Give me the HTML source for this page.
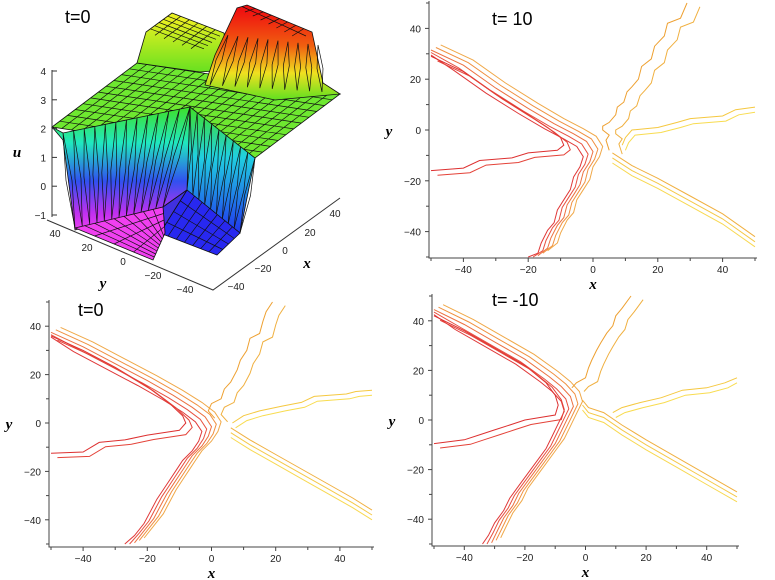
<!DOCTYPE html>
<html><head><meta charset="utf-8"><style>
html,body{margin:0;padding:0;background:#fff;}
svg{display:block;font-family:"Liberation Sans",sans-serif;}
.tk{font-size:10px;fill:#222;}
.ax{font-family:"Liberation Serif",serif;font-weight:bold;font-style:italic;font-size:15px;fill:#000;}
.ttl{font-size:18px;fill:#000;}
</style></head><body>
<svg id="root" width="775" height="580" viewBox="0 0 775 580" xmlns="http://www.w3.org/2000/svg">
<defs>
<linearGradient id="gCliff" x1="0" y1="105" x2="0" y2="232" gradientUnits="userSpaceOnUse">
<stop offset="0" stop-color="#40e020"/><stop offset="0.3" stop-color="#20e8c0"/><stop offset="0.6" stop-color="#3050f0"/><stop offset="0.85" stop-color="#c030f0"/><stop offset="1" stop-color="#f040f0"/></linearGradient>
<linearGradient id="gRight" x1="0" y1="105" x2="0" y2="235" gradientUnits="userSpaceOnUse">
<stop offset="0" stop-color="#40e020"/><stop offset="0.4" stop-color="#20d0e0"/><stop offset="1" stop-color="#2030f0"/></linearGradient>
<linearGradient id="gRed" x1="0" y1="10" x2="0" y2="100" gradientUnits="userSpaceOnUse">
<stop offset="0" stop-color="#f01010"/><stop offset="0.4" stop-color="#f06010"/><stop offset="0.7" stop-color="#f0e020"/><stop offset="1" stop-color="#60e020"/></linearGradient>
<linearGradient id="gYel" x1="0" y1="20" x2="0" y2="75" gradientUnits="userSpaceOnUse">
<stop offset="0" stop-color="#e8f020"/><stop offset="1" stop-color="#60e020"/></linearGradient>
</defs>
<g id="surf"></g>
<g id="p1"></g>
<g id="p2"></g>
<g id="p3"></g>
</svg>
<script>
// ---- contour data (x,y in data units) ----
const t10_A=[[-50,31],[-40,25],[-30,16],[-20,8],[-12,2],[-6,-2],[-2,-5],[0,-9],[-1,-13],[-3,-17],[-4,-22],[-6,-26],[-8,-30],[-9,-35],[-11,-38],[-13,-43],[-14,-47],[-17,-50]];
const t10_B=[[-50,29],[-40,23],[-30,14],[-20,6],[-14,1],[-10,-3],[-9,-6],[-11,-8],[-20,-9],[-25,-11],[-35,-12],[-40,-15],[-50,-16]];
const t10_C=[[5,-8],[4,-4],[5,-2],[3,0],[3,1.5],[5,3],[7,6],[7.5,9],[9.5,11],[10.5,15],[12,17],[14,20],[15,25],[18,28],[19,33],[22,37],[23,42],[27,44],[29,50]];
const t10_D=[[9,-6],[10,-3],[12,0],[20,1],[26,3],[30,4.5],[40,5.5],[44,8],[50,9]];
const t10_E=[[6,-9],[12,-14],[20,-19],[30,-26],[40,-33],[50,-42]];
const t0_A=[[-50,37],[-40,31],[-30,24],[-20,17],[-12,11],[-6,6],[-2,2],[0,-2],[-1,-6],[-3,-10],[-6,-14],[-8,-18],[-10,-22],[-12,-26],[-14,-30],[-16,-35],[-18,-40],[-21,-45],[-24,-50]];
const t0_B=[[-50,36],[-40,30],[-30,23],[-20,15],[-13,8],[-9,3],[-8,0],[-10,-3],[-20,-5],[-27,-7],[-35,-8],[-40,-12],[-50,-12.5]];
const t0_C=[[1,2],[-1,5],[0,8],[3,10],[4,14],[6,17],[8,22],[9,26],[11,30],[12,35],[15,37],[16,42],[17,46],[19,50]];
const t0_D=[[6.5,0],[10,3],[15,5],[22,7],[28,8.5],[32,11],[42,12],[45,13],[50,13.5]];
const t0_E=[[6,-2],[12,-7],[20,-13],[28,-19],[36,-25],[44,-31],[50,-36]];
const tm10_A=[[-50,44],[-40,38],[-30,31],[-20,24],[-12,17],[-8,13],[-5,9],[-4,5],[-6,0],[-8,-5],[-10,-10],[-13,-15],[-16,-20],[-19,-25],[-22,-30],[-24,-35],[-27,-40],[-29,-45],[-31,-50]];
const tm10_B=[[-50,42],[-40,36],[-30,29],[-20,22],[-13,15],[-10,10],[-9,6],[-10,2],[-15,1],[-20,0],[-25,-2],[-30,-4],[-35,-6],[-40,-8],[-50,-9.5]];
const tm10_C=[[-4.5,13],[-3,15],[0,17],[1,21],[2,24],[3.6,28],[5,31],[7,35],[9,38],[10,42],[12,45],[15,50]];
const tm10_D=[[9,3],[12,5],[18,7],[25,9],[32,12],[40,13],[46,15],[50,17]];
const tm10_E=[[-1,8],[1,5],[6,3],[12,-2],[20,-8],[30,-15],[40,-22],[50,-29]];
const offsA=[[-3,-1.5],[-1.5,-0.5],[0,0.5],[1.5,1.5],[3,2.5]];
const offsB=[[0,0],[2,-1.8]];
const offsC=[[0,0],[4,-1.5]];
const offsD=[[0,0],[1,-2]];
const offsE=[[0,0],[0,-2],[0,-4]];
const tickVals=[-40,-20,0,20,40];
const tickLabels=["\u221240","\u221220","0","20","40"];

const NS="http://www.w3.org/2000/svg";
function mk(tag,attrs,parent){const e=document.createElementNS(NS,tag);for(const k in attrs)e.setAttribute(k,attrs[k]);parent.appendChild(e);return e;}

function panel(g,cfg){
  const sx=v=>cfg.x0+(v+50)*(cfg.x1-cfg.x0)/100;
  const sy=v=>cfg.y0+(50-v)*(cfg.y1-cfg.y0)/100;
  const ax=mk('path',{d:`M${cfg.vx},${cfg.y0-2}V${cfg.hy}H${cfg.x1+2}`,stroke:'#444',fill:'none','stroke-width':1},g);
  
  
  for(let v=-50;v<=50;v+=10){
    const maj=tickVals.includes(v);
    mk('line',{x1:sx(v),x2:sx(v),y1:cfg.hy,y2:cfg.hy+(maj?4:3),stroke:'#444'},g);
    mk('line',{y1:sy(v),y2:sy(v),x1:cfg.vx,x2:cfg.vx-(maj?4:3),stroke:'#444'},g);
  }
  tickVals.forEach((v,i)=>{
    const t=mk('text',{x:sx(v),y:cfg.hy+15,'text-anchor':'middle',class:'tk'},g);t.textContent=tickLabels[i];
    
    
    const u=mk('text',{x:cfg.vx-8,y:sy(v)+4,'text-anchor':'end',class:'tk'},g);u.textContent=tickLabels[i];
    
    
  });
  const xl=mk('text',{x:sx(0),y:cfg.hy+31,'text-anchor':'middle',class:'ax'},g);xl.textContent='x';
  
  
  const yl=mk('text',{x:cfg.vx-40,y:sy(0)+6,'text-anchor':'middle',class:'ax'},g);yl.textContent='y';
  
  
  const tt=mk('text',{x:cfg.tx,y:cfg.ty,class:'ttl'},g);tt.textContent=cfg.title;
  
  
  cfg.bundles.forEach(b=>{
    b.offs.forEach((o,i)=>{
      const d=b.pts.map((p,j)=>(j?'L':'M')+sx(Math.max(-50,Math.min(50,p[0]+o[0]))).toFixed(1)+','+sy(Math.max(-50,Math.min(50,p[1]+o[1]))).toFixed(1)).join('');
      const pl=mk('path',{d:d,fill:'none',stroke:b.cols[i],'stroke-width':1},g);
      
      
    });
  });
}
const cA=['#e03838','#e85040','#ec7040','#f09040','#f0a848'];
const cB=['#dd3030','#e44238'];
const cC=['#eea030','#f0b040'];
const cD=['#f5c840','#f8dc50'];
const cE=['#f0b040','#f5c848','#f8d850'];
function bundles(A,B,C,D,E){return [{pts:A,offs:offsA,cols:cA},{pts:B,offs:offsB,cols:cB},{pts:C,offs:offsC,cols:cC},{pts:D,offs:offsD,cols:cD},{pts:E,offs:offsE,cols:cE}];}
panel(document.getElementById('p1'),{x0:431,x1:755,y0:3,y1:257,vx:429,hy:258,title:'t= 10',tx:492,ty:25,bundles:bundles(t10_A,t10_B,t10_C,t10_D,t10_E)});
panel(document.getElementById('p2'),{x0:51,x1:372,y0:302,y1:544,vx:49,hy:547,title:'t=0',tx:78,ty:316,bundles:bundles(t0_A,t0_B,t0_C,t0_D,t0_E)});
panel(document.getElementById('p3'),{x0:434,x1:737,y0:296,y1:544,vx:432,hy:546,title:'t= -10',tx:492,ty:306,bundles:bundles(tm10_A,tm10_B,tm10_C,tm10_D,tm10_E)});

// ---- 3D surface (static drawing) ----
const S=document.getElementById('surf');
function poly(pts,fill,name){const p=mk('polygon',{points:pts.map(q=>q.join(',')).join(' '),fill:fill,stroke:'#111','stroke-width':0.8},S);return p;}
function lerp(a,b,t){return [a[0]+(b[0]-a[0])*t,a[1]+(b[1]-a[1])*t];}
function grid(A,B,C,D,nu,nv){
  let d='';
  for(let i=1;i<nu;i++){const p=lerp(A,B,i/nu),q=lerp(D,C,i/nu);d+=`M${p[0].toFixed(1)},${p[1].toFixed(1)}L${q[0].toFixed(1)},${q[1].toFixed(1)}`;}
  for(let j=1;j<nv;j++){const p=lerp(A,D,j/nv),q=lerp(B,C,j/nv);d+=`M${p[0].toFixed(1)},${p[1].toFixed(1)}L${q[0].toFixed(1)},${q[1].toFixed(1)}`;}
  mk('path',{d:d,stroke:'#111','stroke-width':0.7,fill:'none'},S);
}
function vlines(top1,top2,bot1,bot2,n){
  let d='';
  for(let i=0;i<=n;i++){const p=lerp(top1,top2,i/n),q=lerp(bot1,bot2,i/n),m=lerp(p,q,0.5);
    d+=`M${p[0].toFixed(1)},${p[1].toFixed(1)}L${(m[0]+3).toFixed(1)},${m[1].toFixed(1)}L${q[0].toFixed(1)},${q[1].toFixed(1)}`;
    d+=`M${p[0].toFixed(1)},${p[1].toFixed(1)}L${(m[0]-3).toFixed(1)},${m[1].toFixed(1)}L${q[0].toFixed(1)},${q[1].toFixed(1)}`;}
  mk('path',{d:d,stroke:'#111','stroke-width':0.7,fill:'none'},S);
}
// green plateau
poly([[52,127],[137,63],[340,94],[255,158]],'#6ee830','green-plateau');
grid([52,127],[137,63],[340,94],[255,158],11,21);
// yellow raised block
poly([[137,63],[146,32],[172,13],[224,33],[228,70],[200,72]],'url(#gYel)','yellow-block');
grid([146,32],[172,13],[224,33],[200,52],6,6);
// red raised block
poly([[215,55],[237,8],[247,5],[312,32],[323,83],[340,94],[275,100],[205,85]],'url(#gRed)','red-block');
grid([237,8],[247,5],[312,32],[300,40],2,8);
vlines([228,35],[318,45],[210,85],[322,92],9);
// right cliff down to blue
poly([[190,107],[255,158],[240,233],[187,190]],'url(#gRight)','right-cliff');
vlines([190,107],[255,158],[187,190],[240,233],9);
// front cliff
poly([[52,127],[63,133],[190,107],[187,190],[163,207],[75,230],[63,140]],'url(#gCliff)','front-cliff');
vlines([63,133],[190,107],[75,228],[163,207],12);
// blue floor
poly([[187,190],[240,233],[217,255],[160,233]],'#2828f0','blue-floor');
grid([187,190],[240,233],[217,255],[160,233],7,4);
// small step between magenta and blue
poly([[163,207],[187,190],[160,233],[165,233]],'#4030e0','step-cliff');
// magenta floor
poly([[75,228],[163,207],[165,233],[153,260]],'#f040f0','magenta-floor');
grid([75,228],[163,207],[165,233],[153,260],9,4);
// axes of 3d plot
function line(d,name){const p=mk('path',{d:d,stroke:'#333',fill:'none','stroke-width':1},S);}
line('M52,70V217M47,220L213,290L340,198','surface-axes');
const uT=[4,3,2,1,0,-1];
uT.forEach((v,i)=>{const y=71+i*28.8;mk('line',{x1:52,x2:57,y1:y,y2:y,stroke:'#333'},S);
  const t=mk('text',{x:46,y:y+4,'text-anchor':'end',class:'tk'},S);t.textContent=v<0?'\u22121':String(v);
  
  });
const yT=[[55,237,'40'],[87,251,'20'],[123,265,'0'],[153,279,'\u221220'],[185,293,'\u221240']];
yT.forEach(a=>{const t=mk('text',{x:a[0],y:a[1],'text-anchor':'middle',class:'tk'},S);t.textContent=a[2];
  
  });
const xT=[[236,290,'\u221240'],[263,272,'\u221220'],[285,254,'0'],[310,236,'20'],[335,217,'40']];
xT.forEach(a=>{const t=mk('text',{x:a[0],y:a[1],'text-anchor':'middle',class:'tk'},S);t.textContent=a[2];
  
  });
const lab=[[17,157,'u','u-axis-title'],[103,288,'y','surface-y-title'],[307,268,'x','surface-x-title']];
lab.forEach(a=>{const t=mk('text',{x:a[0],y:a[1],'text-anchor':'middle',class:'ax'},S);t.textContent=a[2];
  
  });
const st=mk('text',{x:65,y:23,class:'ttl'},S);st.textContent='t=0';


</script>
</body></html>
